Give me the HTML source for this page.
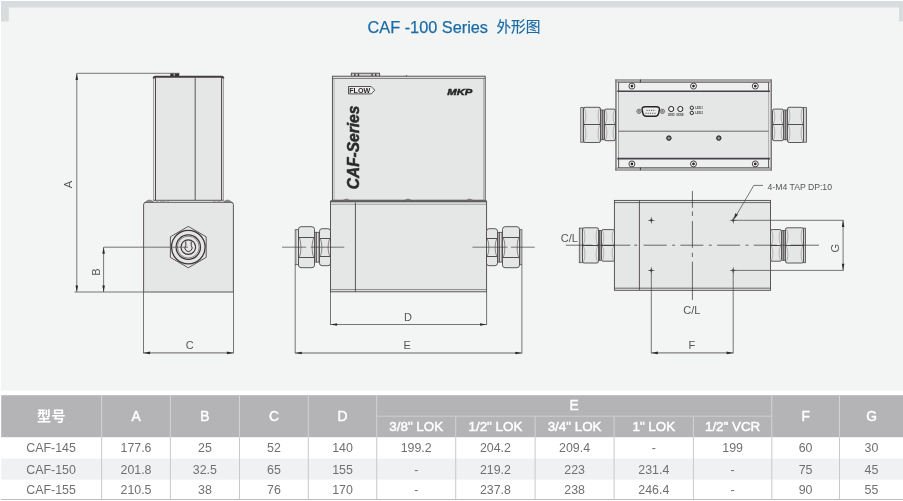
<!DOCTYPE html>
<html lang="zh-CN">
<head>
<meta charset="utf-8">
<title>CAF -100 Series 外形图</title>
<style>
html,body{margin:0;padding:0;background:#fff;}
body{width:903px;height:501px;position:relative;overflow:hidden;font-family:"Liberation Sans","Noto Sans CJK SC",sans-serif;}
svg{position:absolute;left:0;top:0;will-change:transform;}
svg text{font-family:"Liberation Sans","Noto Sans CJK SC",sans-serif;}
</style>
</head>
<body>
<svg width="903" height="501" viewBox="0 0 903 501">
<rect x="0" y="0" width="903" height="501" fill="#ffffff"/>
<rect x="1" y="1" width="902" height="389.5" fill="#f3f5f5"/>
<rect x="1" y="1" width="902" height="6.5" fill="#d9dcdf"/>
<rect x="1" y="1" width="7.8" height="20.5" fill="#d9dcdf"/>
<rect x="899" y="1" width="4" height="20.5" fill="#d9dcdf"/>
<text x="367.5" y="32.8" font-size="16.6" fill="#1b6ca6" stroke="#1b6ca6" stroke-width="0.25" textLength="120.5" lengthAdjust="spacingAndGlyphs">CAF -100 Series</text>
<text x="496.4" y="32.4" font-size="14.6" fill="#1b6ca6" stroke="#1b6ca6" stroke-width="0.2" textLength="44" lengthAdjust="spacingAndGlyphs">外形图</text>
<rect x="154.6" y="77" width="68.2" height="123.3" rx="0" fill="#e5e7e7" stroke="none" stroke-width="0"/>
<line x1="153.6" y1="78" x2="153.6" y2="200.3" stroke="#8a8688" stroke-width="0.8" />
<line x1="155.5" y1="77.5" x2="155.5" y2="200.3" stroke="#4c4648" stroke-width="1.0" />
<line x1="223.4" y1="78" x2="223.4" y2="200.3" stroke="#8a8688" stroke-width="0.8" />
<line x1="221.6" y1="77.5" x2="221.6" y2="200.3" stroke="#4c4648" stroke-width="1.0" />
<path d="M153.6,78.6 Q153.6,76.7 155.6,76.7 H221.4 Q223.4,76.7 223.4,78.6" fill="none" stroke="#453c3e" stroke-width="1.9"/>
<line x1="195.2" y1="77.6" x2="195.2" y2="200.3" stroke="#4c4648" stroke-width="0.9" />
<rect x="170.3" y="73.3" width="3.4" height="2.8" fill="#333"/>
<rect x="174.6" y="73.3" width="4.6" height="2.8" fill="#333"/>
<path d="M143.6,292 V204.6 Q143.6,202.3 146,202.3 H231 Q233.4,202.3 233.4,204.6 V292 Z" fill="#e5e7e7" stroke="#4c4648" stroke-width="0.9"/>
<line x1="153.3" y1="200.3" x2="223.6" y2="200.3" stroke="#4c4648" stroke-width="0.9" />
<path d="M144.6,203 Q148.6,197.8 153.2,201.6 L153.2,202.3 H145 Z" fill="#8d898b" stroke="#5a5456" stroke-width="0.5"/>
<path d="M232.4,203 Q228.4,197.8 223.8,201.6 L223.8,202.3 H232 Z" fill="#8d898b" stroke="#5a5456" stroke-width="0.5"/>
<path d="M156,201.3 H158.5 M160,201.3 H165 M166.5,201.3 H169 M213,201.3 H215.5 M217,201.3 H221" stroke="#8a8688" stroke-width="0.7" fill="none"/>
<polygon points="188.3,226.4 206.2,236.8 206.2,257.4 188.3,267.8 170.4,257.4 170.4,236.8" fill="#e5e7e7" stroke="#4c4648" stroke-width="0.9"/>
<circle cx="188.3" cy="247.1" r="16.8" fill="none" stroke="#3e3436" stroke-width="1.25"/>
<circle cx="188.3" cy="247.1" r="12.2" fill="none" stroke="#3e3436" stroke-width="1.2"/>
<circle cx="188.3" cy="247.1" r="10.9" fill="none" stroke="#4c4648" stroke-width="0.6"/>
<circle cx="188.3" cy="247.1" r="7.3" fill="none" stroke="#3e3436" stroke-width="1.15"/>
<path d="M185.8,241.5 V245.5 A3.6,3.6 0 1 0 191.20000000000002,245.5 V241.5" fill="none" stroke="#3e3436" stroke-width="1.0"/>
<line x1="76.8" y1="73.3" x2="179.5" y2="73.3" stroke="#585456" stroke-width="0.8" />
<line x1="76.8" y1="73.3" x2="76.8" y2="292" stroke="#585456" stroke-width="0.8" />
<polygon points="76.8,73.3 75.5,79.9 78.1,79.9" fill="#2a2a2a"/>
<polygon points="76.8,292.0 75.5,285.4 78.1,285.4" fill="#2a2a2a"/>
<line x1="74.5" y1="292" x2="143.8" y2="292" stroke="#585456" stroke-width="0.8" />
<text x="72.3" y="184.6" font-size="11.2" fill="#555" text-anchor="middle" font-weight="normal" font-style="normal" transform="rotate(-90 72.3 184.6)" >A</text>
<line x1="103.6" y1="247.2" x2="188" y2="247.2" stroke="#585456" stroke-width="0.8" />
<line x1="103.6" y1="247.2" x2="103.6" y2="292" stroke="#585456" stroke-width="0.8" />
<polygon points="103.6,247.2 102.3,253.8 104.9,253.8" fill="#2a2a2a"/>
<polygon points="103.6,292.0 102.3,285.4 104.9,285.4" fill="#2a2a2a"/>
<text x="100.4" y="272.1" font-size="11.2" fill="#555" text-anchor="middle" font-weight="normal" font-style="normal" transform="rotate(-90 100.4 272.1)" >B</text>
<line x1="143.5" y1="292" x2="143.5" y2="353.4" stroke="#585456" stroke-width="0.8" />
<line x1="233.5" y1="292" x2="233.5" y2="353.4" stroke="#585456" stroke-width="0.8" />
<line x1="143.5" y1="352.9" x2="233.5" y2="352.9" stroke="#585456" stroke-width="0.9" />
<polygon points="143.5,352.9 150.1,351.6 150.1,354.2" fill="#2a2a2a"/>
<polygon points="233.5,352.9 226.9,351.6 226.9,354.2" fill="#2a2a2a"/>
<text x="189.8" y="348.9" font-size="11" fill="#555" text-anchor="middle" font-weight="normal" font-style="normal" >C</text>
<rect x="351.3" y="73.2" width="28.3" height="3.2" rx="0" fill="#d2d2d2" stroke="#4a4446" stroke-width="0.9"/>
<rect x="354.1" y="73.6" width="1.4" height="2.6" fill="#4a4446"/>
<rect x="357.8" y="73.6" width="1.4" height="2.6" fill="#4a4446"/>
<rect x="371.4" y="73.6" width="1.4" height="2.6" fill="#4a4446"/>
<rect x="375.0" y="73.6" width="1.4" height="2.6" fill="#4a4446"/>
<polygon points="405.2,76.2 406.4,74.9 407.6,76.2" fill="#4a4446"/>
<rect x="332.4" y="76.2" width="152.8" height="124" rx="0" fill="#e5e7e7" stroke="#4c4648" stroke-width="0.9"/>
<line x1="332.4" y1="78.4" x2="485.2" y2="78.4" stroke="#4c4648" stroke-width="0.7" />
<line x1="334" y1="78.4" x2="334" y2="200" stroke="#888" stroke-width="0.6" />
<line x1="483.6" y1="78.4" x2="483.6" y2="200" stroke="#888" stroke-width="0.6" />
<rect x="330.5" y="201.3" width="156.1" height="90.5" rx="0" fill="#e5e7e7" stroke="#4c4648" stroke-width="0.9"/>
<rect x="330.5" y="200.2" width="156.1" height="2.1" fill="#625c5e"/>
<line x1="331" y1="204.3" x2="486.2" y2="204.3" stroke="#8a8688" stroke-width="0.7" />
<line x1="330.5" y1="289.6" x2="486.6" y2="289.6" stroke="#4c4648" stroke-width="0.6" />
<line x1="355.4" y1="202.4" x2="355.4" y2="291.8" stroke="#4c4648" stroke-width="0.9" />
<path d="M343.2,200.4 Q346.4,197.4 349.59999999999997,200.4 Z" fill="#a5a2a3" stroke="#5a5456" stroke-width="0.6"/>
<path d="M404.8,200.4 Q408.0,197.4 411.2,200.4 Z" fill="#a5a2a3" stroke="#5a5456" stroke-width="0.6"/>
<path d="M466.40000000000003,200.4 Q469.6,197.4 472.8,200.4 Z" fill="#a5a2a3" stroke="#5a5456" stroke-width="0.6"/>
<rect x="295.2" y="229.7" width="3.3000000000000114" height="35.0" rx="0" fill="#eceeee" stroke="#4c4648" stroke-width="0.8"/>
<line x1="296.7" y1="229.7" x2="296.7" y2="264.7" stroke="#777375" stroke-width="0.5" />
<rect x="315.0" y="232.29999999999998" width="4.0" height="29.8" rx="0" fill="#dcdede" stroke="#4c4648" stroke-width="0.8"/>
<line x1="316.5" y1="232.29999999999998" x2="316.5" y2="262.09999999999997" stroke="#4c4648" stroke-width="0.8" />
<path d="M301.1,226.7 H311.9 Q314.5,226.7 314.5,229.29999999999998 V265.09999999999997 Q314.5,267.7 311.9,267.7 H301.1 Q298.5,267.7 298.5,265.09999999999997 V229.29999999999998 Q298.5,226.7 301.1,226.7 Z" fill="#e5e7e7" stroke="#4c4648" stroke-width="0.9"/>
<line x1="298.8" y1="237.5" x2="314.2" y2="237.5" stroke="#4c4648" stroke-width="0.95" />
<line x1="298.8" y1="257.5" x2="314.2" y2="257.5" stroke="#4c4648" stroke-width="0.95" />
<path d="M299.2,238.0 C301.4,241.5 301.4,253.5 299.2,257.0" fill="none" stroke="#5c5658" stroke-width="0.7"/>
<path d="M313.8,238.0 C311.6,241.5 311.6,253.5 313.8,257.0" fill="none" stroke="#5c5658" stroke-width="0.7"/>
<path d="M322.1,228.7 H327.9 Q330.5,228.7 330.5,231.29999999999998 V263.09999999999997 Q330.5,265.7 327.9,265.7 H322.1 Q319.5,265.7 319.5,263.09999999999997 V231.29999999999998 Q319.5,228.7 322.1,228.7 Z" fill="#e5e7e7" stroke="#4c4648" stroke-width="0.9"/>
<line x1="319.8" y1="238.5" x2="330.2" y2="238.5" stroke="#4c4648" stroke-width="0.95" />
<line x1="319.8" y1="256.5" x2="330.2" y2="256.5" stroke="#4c4648" stroke-width="0.95" />
<path d="M320.2,239.0 C322.4,242.5 322.4,252.5 320.2,256.0" fill="none" stroke="#5c5658" stroke-width="0.7"/>
<path d="M329.8,239.0 C327.6,242.5 327.6,252.5 329.8,256.0" fill="none" stroke="#5c5658" stroke-width="0.7"/>
<rect x="519.5" y="229.7" width="2.3999999999999773" height="35.0" rx="0" fill="#eceeee" stroke="#4c4648" stroke-width="0.8"/>
<line x1="520.4" y1="229.7" x2="520.4" y2="264.7" stroke="#777375" stroke-width="0.5" />
<rect x="498.0" y="232.29999999999998" width="4.0" height="29.8" rx="0" fill="#dcdede" stroke="#4c4648" stroke-width="0.8"/>
<line x1="499.5" y1="232.29999999999998" x2="499.5" y2="262.09999999999997" stroke="#4c4648" stroke-width="0.8" />
<path d="M505.1,226.7 H516.9 Q519.5,226.7 519.5,229.29999999999998 V265.09999999999997 Q519.5,267.7 516.9,267.7 H505.1 Q502.5,267.7 502.5,265.09999999999997 V229.29999999999998 Q502.5,226.7 505.1,226.7 Z" fill="#e5e7e7" stroke="#4c4648" stroke-width="0.9"/>
<line x1="502.8" y1="237.5" x2="519.2" y2="237.5" stroke="#4c4648" stroke-width="0.95" />
<line x1="502.8" y1="257.5" x2="519.2" y2="257.5" stroke="#4c4648" stroke-width="0.95" />
<path d="M503.2,238.0 C505.4,241.5 505.4,253.5 503.2,257.0" fill="none" stroke="#5c5658" stroke-width="0.7"/>
<path d="M518.8,238.0 C516.6,241.5 516.6,253.5 518.8,257.0" fill="none" stroke="#5c5658" stroke-width="0.7"/>
<path d="M489.1,228.7 H494.9 Q497.5,228.7 497.5,231.29999999999998 V263.09999999999997 Q497.5,265.7 494.9,265.7 H489.1 Q486.5,265.7 486.5,263.09999999999997 V231.29999999999998 Q486.5,228.7 489.1,228.7 Z" fill="#e5e7e7" stroke="#4c4648" stroke-width="0.9"/>
<line x1="486.8" y1="238.5" x2="497.2" y2="238.5" stroke="#4c4648" stroke-width="0.95" />
<line x1="486.8" y1="256.5" x2="497.2" y2="256.5" stroke="#4c4648" stroke-width="0.95" />
<path d="M487.2,239.0 C489.4,242.5 489.4,252.5 487.2,256.0" fill="none" stroke="#5c5658" stroke-width="0.7"/>
<path d="M496.8,239.0 C494.6,242.5 494.6,252.5 496.8,256.0" fill="none" stroke="#5c5658" stroke-width="0.7"/>
<line x1="282" y1="247.2" x2="306.2" y2="247.2" stroke="#444" stroke-width="0.7" />
<line x1="310.8" y1="247.2" x2="344.3" y2="247.2" stroke="#444" stroke-width="0.7" />
<line x1="472.4" y1="247.2" x2="507.6" y2="247.2" stroke="#444" stroke-width="0.7" />
<line x1="510.9" y1="247.2" x2="534.8" y2="247.2" stroke="#444" stroke-width="0.7" />
<path d="M348.5,86.5 H371.2 L374.8,90.2 L371.2,93.9 H348.5 Z" fill="#f0f0f0" stroke="#2e2a2b" stroke-width="0.8"/>
<text x="349.2" y="93.1" font-size="7.6" font-weight="bold" fill="#2a2627" textLength="21"  lengthAdjust="spacingAndGlyphs">FLOW</text>
<text x="447.3" y="94.9" font-size="9.9" font-weight="bold" font-style="italic" fill="#262626" stroke="#262626" stroke-width="0.5" textLength="25" lengthAdjust="spacingAndGlyphs">MKP</text>
<text x="358.9" y="189.2" font-size="16.2" font-weight="bold" font-style="italic" fill="#2b2b2b" stroke="#2b2b2b" stroke-width="0.55" transform="rotate(-90 358.9 189.2)" textLength="83.5" lengthAdjust="spacingAndGlyphs">CAF-Series</text>
<line x1="330.5" y1="292" x2="330.5" y2="325" stroke="#585456" stroke-width="0.8" />
<line x1="486.6" y1="292" x2="486.6" y2="325" stroke="#585456" stroke-width="0.8" />
<line x1="330.5" y1="324.5" x2="486.6" y2="324.5" stroke="#585456" stroke-width="0.8" />
<polygon points="330.5,324.5 337.1,323.2 337.1,325.8" fill="#2a2a2a"/>
<polygon points="486.6,324.5 480.0,323.2 480.0,325.8" fill="#2a2a2a"/>
<text x="408" y="320.7" font-size="11" fill="#555" text-anchor="middle" font-weight="normal" font-style="normal" >D</text>
<line x1="295.2" y1="265" x2="295.2" y2="353.5" stroke="#585456" stroke-width="0.8" />
<line x1="521.9" y1="265" x2="521.9" y2="353.5" stroke="#585456" stroke-width="0.8" />
<line x1="295.2" y1="353" x2="521.9" y2="353" stroke="#585456" stroke-width="0.9" />
<polygon points="295.2,353.0 301.8,351.7 301.8,354.3" fill="#2a2a2a"/>
<polygon points="521.9,353.0 515.3,351.7 515.3,354.3" fill="#2a2a2a"/>
<text x="407.1" y="348.9" font-size="11" fill="#555" text-anchor="middle" font-weight="normal" font-style="normal" >E</text>
<rect x="615.2" y="79.6" width="156.8" height="90.8" fill="#eef0f0"/>
<rect x="615.2" y="79.6" width="156.8" height="2.6" fill="#b9b7b8"/>
<rect x="615.2" y="167.8" width="156.8" height="2.6" fill="#b9b7b8"/>
<line x1="615.2" y1="79.8" x2="772" y2="79.8" stroke="#777375" stroke-width="0.7" />
<line x1="617.5" y1="82.3" x2="769.7" y2="82.3" stroke="#4c4648" stroke-width="0.8" />
<line x1="615.2" y1="170.2" x2="772" y2="170.2" stroke="#777375" stroke-width="0.7" />
<line x1="617.5" y1="167.7" x2="769.7" y2="167.7" stroke="#4c4648" stroke-width="0.8" />
<rect x="615.2" y="79.6" width="1.5" height="90.8" fill="#7d797b"/>
<rect x="770.5" y="79.6" width="1.5" height="90.8" fill="#7d797b"/>
<line x1="618.6" y1="82.3" x2="618.6" y2="167.7" stroke="#4c4648" stroke-width="0.9" />
<line x1="768.6" y1="82.3" x2="768.6" y2="167.7" stroke="#4c4648" stroke-width="0.9" />
<rect x="618.6" y="91" width="150" height="67.6" fill="#e5e7e7"/>
<line x1="617.2" y1="91.2" x2="770" y2="91.2" stroke="#48424a" stroke-width="1.35" />
<line x1="617.2" y1="158.6" x2="770" y2="158.6" stroke="#48424a" stroke-width="1.6" />
<line x1="618.6" y1="131.2" x2="768.6" y2="131.2" stroke="#4c4648" stroke-width="0.8" />
<line x1="640.4" y1="79.6" x2="640.4" y2="82.4" stroke="#2e2e2e" stroke-width="0.9" />
<line x1="640.4" y1="167.6" x2="640.4" y2="170.2" stroke="#2e2e2e" stroke-width="0.9" />
<circle cx="631.9" cy="86.1" r="3.0" fill="#f2f2f2" stroke="#3a3436" stroke-width="0.9"/>
<circle cx="631.9" cy="86.1" r="1.3" fill="#262022" stroke="#4c4648" stroke-width="0"/>
<circle cx="631.9" cy="163.9" r="3.0" fill="#f2f2f2" stroke="#3a3436" stroke-width="0.9"/>
<circle cx="631.9" cy="163.9" r="1.3" fill="#262022" stroke="#4c4648" stroke-width="0"/>
<circle cx="693.5" cy="86.1" r="3.0" fill="#f2f2f2" stroke="#3a3436" stroke-width="0.9"/>
<circle cx="693.5" cy="86.1" r="1.3" fill="#262022" stroke="#4c4648" stroke-width="0"/>
<circle cx="693.5" cy="163.9" r="3.0" fill="#f2f2f2" stroke="#3a3436" stroke-width="0.9"/>
<circle cx="693.5" cy="163.9" r="1.3" fill="#262022" stroke="#4c4648" stroke-width="0"/>
<circle cx="755.3" cy="86.1" r="3.0" fill="#f2f2f2" stroke="#3a3436" stroke-width="0.9"/>
<circle cx="755.3" cy="86.1" r="1.3" fill="#262022" stroke="#4c4648" stroke-width="0"/>
<circle cx="755.3" cy="163.9" r="3.0" fill="#f2f2f2" stroke="#3a3436" stroke-width="0.9"/>
<circle cx="755.3" cy="163.9" r="1.3" fill="#262022" stroke="#4c4648" stroke-width="0"/>
<path d="M645.2,106.7 H656.3 Q659.9,106.7 659.3,110 L658.6,113.4 Q658,116.2 655.2,116.2 H646.3 Q643.5,116.2 642.9,113.4 L642.2,110 Q641.6,106.7 645.2,106.7 Z" fill="#ececec" stroke="#2a2426" stroke-width="1.5"/>
<rect x="646.50" y="109.9" width="1.2" height="0.8" fill="#3a3436"/>
<rect x="648.75" y="109.9" width="1.2" height="0.8" fill="#3a3436"/>
<rect x="651.00" y="109.9" width="1.2" height="0.8" fill="#3a3436"/>
<rect x="653.25" y="109.9" width="1.2" height="0.8" fill="#3a3436"/>
<rect x="645.40" y="112.8" width="1.2" height="0.8" fill="#3a3436"/>
<rect x="647.65" y="112.8" width="1.2" height="0.8" fill="#3a3436"/>
<rect x="649.90" y="112.8" width="1.2" height="0.8" fill="#3a3436"/>
<rect x="652.15" y="112.8" width="1.2" height="0.8" fill="#3a3436"/>
<rect x="654.40" y="112.8" width="1.2" height="0.8" fill="#3a3436"/>
<polygon points="636.6,111.3 637.8,109.3 640.2,109.3 641.4,111.3 640.2,113.3 637.8,113.3" fill="#cfcfcf" stroke="#4c4648" stroke-width="0.7"/>
<circle cx="639.0" cy="111.3" r="0.9" fill="#bdbdbd" stroke="#4c4648" stroke-width="0.5"/>
<polygon points="660.0,111.3 661.1999999999999,109.3 663.6,109.3 664.8,111.3 663.6,113.3 661.1999999999999,113.3" fill="#cfcfcf" stroke="#4c4648" stroke-width="0.7"/>
<circle cx="662.4" cy="111.3" r="0.9" fill="#bdbdbd" stroke="#4c4648" stroke-width="0.5"/>
<circle cx="671.2" cy="109" r="2.6" fill="#efefef" stroke="#2a2426" stroke-width="1.0"/>
<circle cx="680.3" cy="109" r="2.6" fill="#efefef" stroke="#2a2426" stroke-width="1.0"/>
<text x="671.4" y="115.6" font-size="3" font-weight="bold" fill="#3a3a3a" text-anchor="middle" textLength="6.6" lengthAdjust="spacingAndGlyphs">ZERO</text>
<text x="680" y="115.6" font-size="3" font-weight="bold" fill="#3a3a3a" text-anchor="middle" textLength="7.2" lengthAdjust="spacingAndGlyphs">MODE</text>
<circle cx="691.8" cy="107.8" r="1.7" fill="#efefef" stroke="#2a2426" stroke-width="1.0"/>
<circle cx="691.8" cy="112.9" r="1.7" fill="#efefef" stroke="#2a2426" stroke-width="1.0"/>
<text x="695.2" y="108.9" font-size="3" font-weight="bold" fill="#4a4a4a">LED1</text>
<text x="695.2" y="114.1" font-size="3" font-weight="bold" fill="#4a4a4a">LED2</text>
<circle cx="668.9" cy="138.1" r="2.25" fill="#6a6466" stroke="#2a2426" stroke-width="1.0"/>
<circle cx="668.9" cy="138.1" r="0.9" fill="#b5b3b4" stroke="#4c4648" stroke-width="0"/>
<circle cx="718.8" cy="138.1" r="2.25" fill="#6a6466" stroke="#2a2426" stroke-width="1.0"/>
<circle cx="718.8" cy="138.1" r="0.9" fill="#b5b3b4" stroke="#4c4648" stroke-width="0"/>
<rect x="580.8000000000001" y="107.60000000000001" width="2.699999999999932" height="34.6" rx="0" fill="#eceeee" stroke="#4c4648" stroke-width="0.8"/>
<line x1="582.3000000000001" y1="107.60000000000001" x2="582.3000000000001" y2="142.20000000000002" stroke="#777375" stroke-width="0.5" />
<rect x="601.0" y="110.0" width="3.0" height="29.8" rx="0" fill="#dcdede" stroke="#4c4648" stroke-width="0.8"/>
<line x1="602.5" y1="110.0" x2="602.5" y2="139.8" stroke="#4c4648" stroke-width="0.8" />
<path d="M585.1,107.30000000000001 H598.9 Q600.5,107.30000000000001 600.5,108.9 V140.9 Q600.5,142.5 598.9,142.5 H585.1 Q583.5,142.5 583.5,140.9 V108.9 Q583.5,107.30000000000001 585.1,107.30000000000001 Z" fill="#e5e7e7" stroke="#4c4648" stroke-width="0.9"/>
<line x1="583.8" y1="124.5" x2="600.2" y2="124.5" stroke="#4c4648" stroke-width="0.95" />
<path d="M584.2,107.80000000000001 C586.4,111.30000000000001 586.4,120.5 584.2,124.0" fill="none" stroke="#858183" stroke-width="0.55"/>
<path d="M599.8,107.80000000000001 C597.6,111.30000000000001 597.6,120.5 599.8,124.0" fill="none" stroke="#858183" stroke-width="0.55"/>
<path d="M584.2,125.0 C586.4,128.5 586.4,138.5 584.2,142.0" fill="none" stroke="#858183" stroke-width="0.55"/>
<path d="M599.8,125.0 C597.6,128.5 597.6,138.5 599.8,142.0" fill="none" stroke="#858183" stroke-width="0.55"/>
<path d="M606.1,109.10000000000001 H613.9 Q615.5,109.10000000000001 615.5,110.7 V139.10000000000002 Q615.5,140.70000000000002 613.9,140.70000000000002 H606.1 Q604.5,140.70000000000002 604.5,139.10000000000002 V110.7 Q604.5,109.10000000000001 606.1,109.10000000000001 Z" fill="#e5e7e7" stroke="#4c4648" stroke-width="0.9"/>
<line x1="604.8" y1="124.5" x2="615.2" y2="124.5" stroke="#4c4648" stroke-width="0.95" />
<path d="M605.2,109.60000000000001 C607.4,113.10000000000001 607.4,120.5 605.2,124.0" fill="none" stroke="#858183" stroke-width="0.55"/>
<path d="M614.8,109.60000000000001 C612.6,113.10000000000001 612.6,120.5 614.8,124.0" fill="none" stroke="#858183" stroke-width="0.55"/>
<path d="M605.2,125.0 C607.4,128.5 607.4,136.70000000000002 605.2,140.20000000000002" fill="none" stroke="#858183" stroke-width="0.55"/>
<path d="M614.8,125.0 C612.6,128.5 612.6,136.70000000000002 614.8,140.20000000000002" fill="none" stroke="#858183" stroke-width="0.55"/>
<rect x="803.5" y="107.60000000000001" width="3.1000000000000227" height="34.6" rx="0" fill="#eceeee" stroke="#4c4648" stroke-width="0.8"/>
<line x1="805.1" y1="107.60000000000001" x2="805.1" y2="142.20000000000002" stroke="#777375" stroke-width="0.5" />
<rect x="784.0" y="110.0" width="3.0" height="29.8" rx="0" fill="#dcdede" stroke="#4c4648" stroke-width="0.8"/>
<line x1="785.5" y1="110.0" x2="785.5" y2="139.8" stroke="#4c4648" stroke-width="0.8" />
<path d="M789.1,107.30000000000001 H801.9 Q803.5,107.30000000000001 803.5,108.9 V140.9 Q803.5,142.5 801.9,142.5 H789.1 Q787.5,142.5 787.5,140.9 V108.9 Q787.5,107.30000000000001 789.1,107.30000000000001 Z" fill="#e5e7e7" stroke="#4c4648" stroke-width="0.9"/>
<line x1="787.8" y1="124.5" x2="803.2" y2="124.5" stroke="#4c4648" stroke-width="0.95" />
<path d="M788.2,107.80000000000001 C790.4,111.30000000000001 790.4,120.5 788.2,124.0" fill="none" stroke="#858183" stroke-width="0.55"/>
<path d="M802.8,107.80000000000001 C800.6,111.30000000000001 800.6,120.5 802.8,124.0" fill="none" stroke="#858183" stroke-width="0.55"/>
<path d="M788.2,125.0 C790.4,128.5 790.4,138.5 788.2,142.0" fill="none" stroke="#858183" stroke-width="0.55"/>
<path d="M802.8,125.0 C800.6,128.5 800.6,138.5 802.8,142.0" fill="none" stroke="#858183" stroke-width="0.55"/>
<path d="M774.1,109.10000000000001 H781.9 Q783.5,109.10000000000001 783.5,110.7 V139.10000000000002 Q783.5,140.70000000000002 781.9,140.70000000000002 H774.1 Q772.5,140.70000000000002 772.5,139.10000000000002 V110.7 Q772.5,109.10000000000001 774.1,109.10000000000001 Z" fill="#e5e7e7" stroke="#4c4648" stroke-width="0.9"/>
<line x1="772.8" y1="124.5" x2="783.2" y2="124.5" stroke="#4c4648" stroke-width="0.95" />
<path d="M773.2,109.60000000000001 C775.4,113.10000000000001 775.4,120.5 773.2,124.0" fill="none" stroke="#858183" stroke-width="0.55"/>
<path d="M782.8,109.60000000000001 C780.6,113.10000000000001 780.6,120.5 782.8,124.0" fill="none" stroke="#858183" stroke-width="0.55"/>
<path d="M773.2,125.0 C775.4,128.5 775.4,136.70000000000002 773.2,140.20000000000002" fill="none" stroke="#858183" stroke-width="0.55"/>
<path d="M782.8,125.0 C780.6,128.5 780.6,136.70000000000002 782.8,140.20000000000002" fill="none" stroke="#858183" stroke-width="0.55"/>
<rect x="614.4" y="200.4" width="156.1" height="89.9" rx="0" fill="#e5e7e7" stroke="#4c4648" stroke-width="0.9"/>
<line x1="614.4" y1="202.6" x2="770.5" y2="202.6" stroke="#4c4648" stroke-width="0.8" />
<line x1="614.4" y1="288.2" x2="770.5" y2="288.2" stroke="#4c4648" stroke-width="0.8" />
<line x1="639.4" y1="200.4" x2="639.4" y2="290.2" stroke="#4c4648" stroke-width="0.9" />
<rect x="579.2999999999998" y="228.1" width="3.200000000000159" height="34.6" rx="0" fill="#eceeee" stroke="#4c4648" stroke-width="0.8"/>
<line x1="580.7999999999998" y1="228.1" x2="580.7999999999998" y2="262.7" stroke="#777375" stroke-width="0.5" />
<rect x="599.0" y="230.5" width="2.0" height="29.8" rx="0" fill="#dcdede" stroke="#4c4648" stroke-width="0.8"/>
<line x1="599.5" y1="230.5" x2="599.5" y2="260.3" stroke="#4c4648" stroke-width="0.8" />
<path d="M584.1,227.8 H596.9 Q598.5,227.8 598.5,229.4 V261.4 Q598.5,263.0 596.9,263.0 H584.1 Q582.5,263.0 582.5,261.4 V229.4 Q582.5,227.8 584.1,227.8 Z" fill="#e5e7e7" stroke="#4c4648" stroke-width="0.9"/>
<line x1="582.8" y1="245.5" x2="598.2" y2="245.5" stroke="#4c4648" stroke-width="0.95" />
<path d="M583.2,228.3 C585.4,231.8 585.4,241.5 583.2,245.0" fill="none" stroke="#858183" stroke-width="0.55"/>
<path d="M597.8,228.3 C595.6,231.8 595.6,241.5 597.8,245.0" fill="none" stroke="#858183" stroke-width="0.55"/>
<path d="M583.2,246.0 C585.4,249.5 585.4,259.0 583.2,262.5" fill="none" stroke="#858183" stroke-width="0.55"/>
<path d="M597.8,246.0 C595.6,249.5 595.6,259.0 597.8,262.5" fill="none" stroke="#858183" stroke-width="0.55"/>
<path d="M603.1,229.6 H612.9 Q614.5,229.6 614.5,231.2 V259.59999999999997 Q614.5,261.2 612.9,261.2 H603.1 Q601.5,261.2 601.5,259.59999999999997 V231.2 Q601.5,229.6 603.1,229.6 Z" fill="#e5e7e7" stroke="#4c4648" stroke-width="0.9"/>
<line x1="601.8" y1="245.5" x2="614.2" y2="245.5" stroke="#4c4648" stroke-width="0.95" />
<path d="M602.2,230.1 C604.4,233.6 604.4,241.5 602.2,245.0" fill="none" stroke="#858183" stroke-width="0.55"/>
<path d="M613.8,230.1 C611.6,233.6 611.6,241.5 613.8,245.0" fill="none" stroke="#858183" stroke-width="0.55"/>
<path d="M602.2,246.0 C604.4,249.5 604.4,257.2 602.2,260.7" fill="none" stroke="#858183" stroke-width="0.55"/>
<path d="M613.8,246.0 C611.6,249.5 611.6,257.2 613.8,260.7" fill="none" stroke="#858183" stroke-width="0.55"/>
<rect x="803.5" y="228.1" width="2.1000000000000227" height="34.6" rx="0" fill="#eceeee" stroke="#4c4648" stroke-width="0.8"/>
<line x1="804.1" y1="228.1" x2="804.1" y2="262.7" stroke="#777375" stroke-width="0.5" />
<rect x="782.0" y="230.5" width="3.0" height="29.8" rx="0" fill="#dcdede" stroke="#4c4648" stroke-width="0.8"/>
<line x1="783.5" y1="230.5" x2="783.5" y2="260.3" stroke="#4c4648" stroke-width="0.8" />
<path d="M787.1,227.8 H801.9 Q803.5,227.8 803.5,229.4 V261.4 Q803.5,263.0 801.9,263.0 H787.1 Q785.5,263.0 785.5,261.4 V229.4 Q785.5,227.8 787.1,227.8 Z" fill="#e5e7e7" stroke="#4c4648" stroke-width="0.9"/>
<line x1="785.8" y1="245.5" x2="803.2" y2="245.5" stroke="#4c4648" stroke-width="0.95" />
<path d="M786.2,228.3 C788.4,231.8 788.4,241.5 786.2,245.0" fill="none" stroke="#858183" stroke-width="0.55"/>
<path d="M802.8,228.3 C800.6,231.8 800.6,241.5 802.8,245.0" fill="none" stroke="#858183" stroke-width="0.55"/>
<path d="M786.2,246.0 C788.4,249.5 788.4,259.0 786.2,262.5" fill="none" stroke="#858183" stroke-width="0.55"/>
<path d="M802.8,246.0 C800.6,249.5 800.6,259.0 802.8,262.5" fill="none" stroke="#858183" stroke-width="0.55"/>
<path d="M772.1,229.6 H779.9 Q781.5,229.6 781.5,231.2 V259.59999999999997 Q781.5,261.2 779.9,261.2 H772.1 Q770.5,261.2 770.5,259.59999999999997 V231.2 Q770.5,229.6 772.1,229.6 Z" fill="#e5e7e7" stroke="#4c4648" stroke-width="0.9"/>
<line x1="770.8" y1="245.5" x2="781.2" y2="245.5" stroke="#4c4648" stroke-width="0.95" />
<path d="M771.2,230.1 C773.4,233.6 773.4,241.5 771.2,245.0" fill="none" stroke="#858183" stroke-width="0.55"/>
<path d="M780.8,230.1 C778.6,233.6 778.6,241.5 780.8,245.0" fill="none" stroke="#858183" stroke-width="0.55"/>
<path d="M771.2,246.0 C773.4,249.5 773.4,257.2 771.2,260.7" fill="none" stroke="#858183" stroke-width="0.55"/>
<path d="M780.8,246.0 C778.6,249.5 778.6,257.2 780.8,260.7" fill="none" stroke="#858183" stroke-width="0.55"/>
<path d="M565.8,245.2 H592.5 M596.1,245.2 H630.3 M634.2,245.2 H637.2 M643.7,245.2 H666.7 M672.1,245.2 H675.1 M680.4,245.2 H703.4 M708.8,245.2 H711.8 M717.1,245.2 H740.1 M745.5,245.2 H748.5 M753.8,245.2 H776.8 M782.2,245.2 H785.2 M790.5,245.2 H819.0" fill="none" stroke="#3c3c3c" stroke-width="0.75"/>
<path d="M692.4,191 V207.8 M692.4,211.3 V216 M692.4,221 V247.8 M692.4,252.8 V257 M692.4,261.6 V300" fill="none" stroke="#3c3c3c" stroke-width="0.75"/>
<polygon points="651.30,216.40 651.90,219.70 655.20,220.30 651.90,220.90 651.30,224.20 650.70,220.90 647.40,220.30 650.70,219.70" fill="#403a3c"/>
<circle cx="651.3" cy="220.3" r="1.0" fill="#403a3c" stroke="#4c4648" stroke-width="0"/>
<polygon points="651.30,266.50 651.90,269.80 655.20,270.40 651.90,271.00 651.30,274.30 650.70,271.00 647.40,270.40 650.70,269.80" fill="#403a3c"/>
<circle cx="651.3" cy="270.4" r="1.0" fill="#403a3c" stroke="#4c4648" stroke-width="0"/>
<polygon points="733.20,216.40 733.80,219.70 737.10,220.30 733.80,220.90 733.20,224.20 732.60,220.90 729.30,220.30 732.60,219.70" fill="#403a3c"/>
<circle cx="733.2" cy="220.3" r="1.0" fill="#403a3c" stroke="#4c4648" stroke-width="0"/>
<polygon points="733.20,266.50 733.80,269.80 737.10,270.40 733.80,271.00 733.20,274.30 732.60,271.00 729.30,270.40 732.60,269.80" fill="#403a3c"/>
<circle cx="733.2" cy="270.4" r="1.0" fill="#403a3c" stroke="#4c4648" stroke-width="0"/>
<line x1="733.2" y1="220.3" x2="843.6" y2="220.3" stroke="#585456" stroke-width="0.8" />
<line x1="733.2" y1="270.4" x2="843.6" y2="270.4" stroke="#585456" stroke-width="0.8" />
<line x1="843.1" y1="220.3" x2="843.1" y2="270.4" stroke="#585456" stroke-width="0.8" />
<polygon points="843.1,220.3 841.8,226.9 844.4,226.9" fill="#2a2a2a"/>
<polygon points="843.1,270.4 841.8,263.8 844.4,263.8" fill="#2a2a2a"/>
<text x="839.3" y="248.1" font-size="11.2" fill="#555" text-anchor="middle" font-weight="normal" font-style="normal" transform="rotate(-90 839.3 248.1)" >G</text>
<line x1="651.3" y1="270.3" x2="651.3" y2="353.4" stroke="#585456" stroke-width="0.8" />
<line x1="733.2" y1="270.3" x2="733.2" y2="353.4" stroke="#585456" stroke-width="0.8" />
<line x1="651.3" y1="352.9" x2="733.2" y2="352.9" stroke="#585456" stroke-width="0.9" />
<polygon points="651.3,352.9 657.9,351.6 657.9,354.2" fill="#2a2a2a"/>
<polygon points="733.2,352.9 726.6,351.6 726.6,354.2" fill="#2a2a2a"/>
<text x="691.8" y="348.6" font-size="11" fill="#555" text-anchor="middle" font-weight="normal" font-style="normal" >F</text>
<text x="569.4" y="242.2" font-size="11" fill="#555" text-anchor="middle" font-weight="normal" font-style="normal" >C/L</text>
<text x="691.9" y="313.6" font-size="11" fill="#555" text-anchor="middle" font-weight="normal" font-style="normal" >C/L</text>
<path d="M763,185.4 H753.8 L734.6,218.2" fill="none" stroke="#585456" stroke-width="0.8"/>
<polygon points="733.6,219.4 735.2,213.2 738.0,214.8" fill="#333"/>
<text x="767.5" y="189.6" font-size="8.4" fill="#555" textLength="64.5" lengthAdjust="spacingAndGlyphs">4-M4 TAP DP:10</text>
<rect x="1.2" y="395.2" width="901.8" height="42.0" fill="#b4b4b6"/>
<rect x="1.2" y="458.5" width="901.8" height="21.100000000000023" fill="#f0f1f2"/>
<rect x="101.1" y="395.2" width="1" height="42.0" fill="#d3d3d5"/>
<rect x="169.9" y="395.2" width="1" height="42.0" fill="#d3d3d5"/>
<rect x="239.0" y="395.2" width="1" height="42.0" fill="#d3d3d5"/>
<rect x="307.8" y="395.2" width="1" height="42.0" fill="#d3d3d5"/>
<rect x="376.2" y="395.2" width="1" height="42.0" fill="#d3d3d5"/>
<rect x="455.2" y="416.2" width="1" height="21.0" fill="#d3d3d5"/>
<rect x="534.6" y="416.2" width="1" height="21.0" fill="#d3d3d5"/>
<rect x="613.6" y="416.2" width="1" height="21.0" fill="#d3d3d5"/>
<rect x="692.9" y="416.2" width="1" height="21.0" fill="#d3d3d5"/>
<rect x="771.3" y="395.2" width="1" height="42.0" fill="#d3d3d5"/>
<rect x="839.0" y="395.2" width="1" height="42.0" fill="#d3d3d5"/>
<rect x="377.2" y="415.7" width="394.1" height="1" fill="#cdcdcf"/>
<rect x="101.1" y="437.2" width="1" height="62.1" fill="#c9c9ca"/>
<rect x="169.9" y="437.2" width="1" height="62.1" fill="#c9c9ca"/>
<rect x="239.0" y="437.2" width="1" height="62.1" fill="#c9c9ca"/>
<rect x="307.8" y="437.2" width="1" height="62.1" fill="#c9c9ca"/>
<rect x="376.2" y="437.2" width="1" height="62.1" fill="#c9c9ca"/>
<rect x="455.2" y="437.2" width="1" height="62.1" fill="#c9c9ca"/>
<rect x="534.6" y="437.2" width="1" height="62.1" fill="#c9c9ca"/>
<rect x="613.6" y="437.2" width="1" height="62.1" fill="#c9c9ca"/>
<rect x="692.9" y="437.2" width="1" height="62.1" fill="#c9c9ca"/>
<rect x="771.3" y="437.2" width="1" height="62.1" fill="#c9c9ca"/>
<rect x="839.0" y="437.2" width="1" height="62.1" fill="#c9c9ca"/>
<rect x="1.2" y="499.0" width="901.8" height="1" fill="#bdbdbd"/>
<text x="51.4" y="421.2" text-anchor="middle" font-size="14" font-weight="bold" fill="#ffffff" letter-spacing="0.5">型号</text>
<text transform="translate(136.0 421.0) scale(0.985 1)" text-anchor="middle" font-size="14" fill="#ffffff" stroke="#ffffff" stroke-width="0.45">A</text>
<text transform="translate(204.9 421.0) scale(0.985 1)" text-anchor="middle" font-size="14" fill="#ffffff" stroke="#ffffff" stroke-width="0.45">B</text>
<text transform="translate(273.9 421.0) scale(0.985 1)" text-anchor="middle" font-size="14" fill="#ffffff" stroke="#ffffff" stroke-width="0.45">C</text>
<text transform="translate(342.5 421.0) scale(0.985 1)" text-anchor="middle" font-size="14" fill="#ffffff" stroke="#ffffff" stroke-width="0.45">D</text>
<text transform="translate(574.2 410.1) scale(0.985 1)" text-anchor="middle" font-size="14" fill="#ffffff" stroke="#ffffff" stroke-width="0.45">E</text>
<text transform="translate(416.2 431.3) scale(0.985 1)" text-anchor="middle" font-size="13.6" fill="#ffffff" stroke="#ffffff" stroke-width="0.45">3/8" LOK</text>
<text transform="translate(495.4 431.3) scale(0.985 1)" text-anchor="middle" font-size="13.6" fill="#ffffff" stroke="#ffffff" stroke-width="0.45">1/2" LOK</text>
<text transform="translate(574.6 431.3) scale(0.985 1)" text-anchor="middle" font-size="13.6" fill="#ffffff" stroke="#ffffff" stroke-width="0.45">3/4" LOK</text>
<text transform="translate(653.8 431.3) scale(0.985 1)" text-anchor="middle" font-size="13.6" fill="#ffffff" stroke="#ffffff" stroke-width="0.45">1" LOK</text>
<text transform="translate(732.6 431.3) scale(0.985 1)" text-anchor="middle" font-size="13.6" fill="#ffffff" stroke="#ffffff" stroke-width="0.45">1/2" VCR</text>
<text transform="translate(805.6 421.0) scale(0.985 1)" text-anchor="middle" font-size="14" fill="#ffffff" stroke="#ffffff" stroke-width="0.45">F</text>
<text transform="translate(871.5 421.0) scale(0.985 1)" text-anchor="middle" font-size="14" fill="#ffffff" stroke="#ffffff" stroke-width="0.45">G</text>
<text x="51.1" y="452.4" text-anchor="middle" font-size="12.4" fill="#707070">CAF-145</text>
<text x="136.0" y="452.4" text-anchor="middle" font-size="12.4" fill="#707070">177.6</text>
<text x="204.9" y="452.4" text-anchor="middle" font-size="12.4" fill="#707070">25</text>
<text x="273.9" y="452.4" text-anchor="middle" font-size="12.4" fill="#707070">52</text>
<text x="342.5" y="452.4" text-anchor="middle" font-size="12.4" fill="#707070">140</text>
<text x="416.2" y="452.4" text-anchor="middle" font-size="12.4" fill="#707070">199.2</text>
<text x="495.4" y="452.4" text-anchor="middle" font-size="12.4" fill="#707070">204.2</text>
<text x="574.6" y="452.4" text-anchor="middle" font-size="12.4" fill="#707070">209.4</text>
<text x="653.8" y="452.4" text-anchor="middle" font-size="12.4" fill="#707070">-</text>
<text x="732.6" y="452.4" text-anchor="middle" font-size="12.4" fill="#707070">199</text>
<text x="805.6" y="452.4" text-anchor="middle" font-size="12.4" fill="#707070">60</text>
<text x="871.5" y="452.4" text-anchor="middle" font-size="12.4" fill="#707070">30</text>
<text x="51.1" y="473.6" text-anchor="middle" font-size="12.4" fill="#707070">CAF-150</text>
<text x="136.0" y="473.6" text-anchor="middle" font-size="12.4" fill="#707070">201.8</text>
<text x="204.9" y="473.6" text-anchor="middle" font-size="12.4" fill="#707070">32.5</text>
<text x="273.9" y="473.6" text-anchor="middle" font-size="12.4" fill="#707070">65</text>
<text x="342.5" y="473.6" text-anchor="middle" font-size="12.4" fill="#707070">155</text>
<text x="416.2" y="473.6" text-anchor="middle" font-size="12.4" fill="#707070">-</text>
<text x="495.4" y="473.6" text-anchor="middle" font-size="12.4" fill="#707070">219.2</text>
<text x="574.6" y="473.6" text-anchor="middle" font-size="12.4" fill="#707070">223</text>
<text x="653.8" y="473.6" text-anchor="middle" font-size="12.4" fill="#707070">231.4</text>
<text x="732.6" y="473.6" text-anchor="middle" font-size="12.4" fill="#707070">-</text>
<text x="805.6" y="473.6" text-anchor="middle" font-size="12.4" fill="#707070">75</text>
<text x="871.5" y="473.6" text-anchor="middle" font-size="12.4" fill="#707070">45</text>
<text x="51.1" y="494.0" text-anchor="middle" font-size="12.4" fill="#707070">CAF-155</text>
<text x="136.0" y="494.0" text-anchor="middle" font-size="12.4" fill="#707070">210.5</text>
<text x="204.9" y="494.0" text-anchor="middle" font-size="12.4" fill="#707070">38</text>
<text x="273.9" y="494.0" text-anchor="middle" font-size="12.4" fill="#707070">76</text>
<text x="342.5" y="494.0" text-anchor="middle" font-size="12.4" fill="#707070">170</text>
<text x="416.2" y="494.0" text-anchor="middle" font-size="12.4" fill="#707070">-</text>
<text x="495.4" y="494.0" text-anchor="middle" font-size="12.4" fill="#707070">237.8</text>
<text x="574.6" y="494.0" text-anchor="middle" font-size="12.4" fill="#707070">238</text>
<text x="653.8" y="494.0" text-anchor="middle" font-size="12.4" fill="#707070">246.4</text>
<text x="732.6" y="494.0" text-anchor="middle" font-size="12.4" fill="#707070">-</text>
<text x="805.6" y="494.0" text-anchor="middle" font-size="12.4" fill="#707070">90</text>
<text x="871.5" y="494.0" text-anchor="middle" font-size="12.4" fill="#707070">55</text>
</svg>

</body>
</html>
